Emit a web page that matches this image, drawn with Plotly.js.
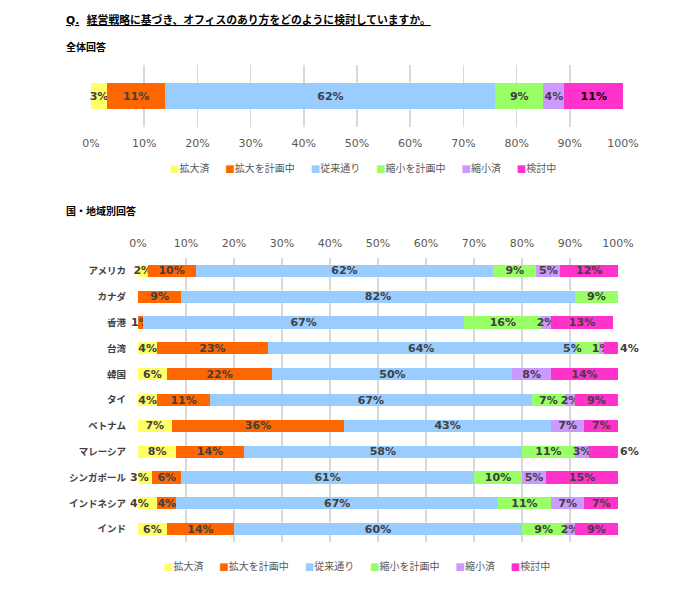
<!DOCTYPE html>
<html><head><meta charset="utf-8">
<script src="https://cdn.plot.ly/plotly-3.0.1.min.js"></script>
<style>html,body{margin:0;padding:0;background:#fff}</style>
</head><body><div id="chart" style="width:700px;height:597px"></div>
<script>
// ---- data ----
const seriesNames = ['拡大済', '拡大を計画中', '従来通り', '縮小を計画中', '縮小済', '検討中'];
const seriesColors = ['#FFFF66', '#FF6600', '#99CCFF', '#99FF66', '#CC99FF', '#FF33CC'];
const overallCategory = ['全体'];
const overallValues = [3, 11, 62, 9, 4, 11];
const countries = ['アメリカ', 'カナダ', '香港', '台湾', '韓国', 'タイ', 'ベトナム', 'マレーシア', 'シンガポール', 'インドネシア', 'インド'];
const expanded   = [2, 0, 0, 4, 6, 4, 7, 8, 3, 4, 6];
const planExpand = [10, 9, 1, 23, 22, 11, 36, 14, 6, 4, 14];
const unchanged  = [62, 82, 67, 64, 50, 67, 43, 58, 61, 67, 60];
const planShrink = [9, 9, 16, 5, 0, 7, 0, 11, 10, 11, 9];
const shrunk     = [5, 0, 2, 1, 8, 2, 7, 3, 5, 7, 2];
const undecided  = [12, 0, 13, 4, 14, 9, 7, 6, 15, 7, 9];
const tickVals = [0, 10, 20, 30, 40, 50, 60, 70, 80, 90, 100];
const tickLabels = ['0%', '10%', '20%', '30%', '40%', '50%', '60%', '70%', '80%', '90%', '100%'];

const countrySeries = [expanded, planExpand, unchanged, planShrink, shrunk, undecided];
const FONT = 'DejaVu Sans, Noto Sans CJK JP, sans-serif';
const NB = '\u00A0';
const lbl = v => v > 0 ? v + '%' : '';
const X_MAX = 100;

// label placement tweaks (styling only), mimicking how the original moved crowded labels
const nudged = [
  { s: 0, row: 'シンガポール', dx: -6 },
  { s: 0, row: 'インドネシア', dx: -8 },
  { s: 3, row: '台湾', dx: -14 }
];
const outsideLabels = [
  { s: 5, row: '台湾' },
  { s: 5, row: 'マレーシア' }
];
const isSpecial = (s, row) =>
  nudged.some(n => n.s === s && n.row === row) || outsideLabels.some(n => n.s === s && n.row === row);

const labelFont = { family: FONT, size: 11, weight: 'bold', color: '#404040' };

const traces = [];
seriesNames.forEach((name, i) => {
  traces.push({
    type: 'bar', orientation: 'h', name: name,
    x: [overallValues[i]], y: overallCategory,
    xaxis: 'x', yaxis: 'y', width: 0.42,
    marker: { color: seriesColors[i], line: { width: 0 } },
    text: [lbl(overallValues[i])], textposition: 'inside', insidetextanchor: 'middle',
    textangle: 0, cliponaxis: false,
    textfont: Object.assign({}, labelFont, { color: i === 5 ? '#000000' : '#404040' }),
    hoverinfo: 'skip', showlegend: false
  });
});
seriesNames.forEach((name, i) => {
  const vals = countrySeries[i];
  traces.push({
    type: 'bar', orientation: 'h', name: name,
    x: vals, y: countries,
    xaxis: 'x2', yaxis: 'y2', width: 0.47,
    marker: { color: seriesColors[i], line: { width: 0 } },
    text: vals.map((v, k) => isSpecial(i, countries[k]) ? '' : lbl(v)),
    textposition: 'inside', insidetextanchor: 'middle',
    textangle: 0, cliponaxis: false,
    textfont: labelFont,
    hoverinfo: 'skip', showlegend: false
  });
});

// annotations for the moved labels, positioned from the data
const labelAnnotations = [];
nudged.forEach(n => {
  const k = countries.indexOf(n.row);
  let start = 0;
  for (let j = 0; j < n.s; j++) start += countrySeries[j][k];
  const v = countrySeries[n.s][k];
  labelAnnotations.push({
    xref: 'x2', yref: 'y2', x: start + v / 2, y: n.row, xshift: n.dx,
    xanchor: 'center', yanchor: 'middle', showarrow: false,
    text: lbl(v), font: labelFont
  });
});
outsideLabels.forEach(n => {
  const k = countries.indexOf(n.row);
  let total = 0;
  for (let j = 0; j <= n.s; j++) total += countrySeries[j][k];
  labelAnnotations.push({
    xref: 'x2', yref: 'y2', x: Math.min(total, X_MAX), y: n.row, xshift: 0,
    xanchor: 'left', yanchor: 'middle', showarrow: false,
    text: lbl(countrySeries[n.s][k]), font: labelFont
  });
});

function legendText() {
  return seriesNames.map((n, i) =>
    '<span style="color:' + seriesColors[i] + ';font-size:10px">■</span>' + n
  ).join(NB + NB + NB + NB + NB);
}

const H = 597, W = 700;
const py = y => 1 - y / H;
const px = x => x / W;

const layout = {
  width: W, height: H,
  margin: { l: 0, r: 0, t: 0, b: 0 },
  paper_bgcolor: '#ffffff', plot_bgcolor: '#ffffff',
  barmode: 'stack',
  showlegend: false,
  uniformtext: { mode: 'show', minsize: 11 },
  font: { family: FONT, color: '#595959' },
  xaxis: {
    domain: [px(91), px(623)], range: [0, X_MAX], anchor: 'y',
    tickvals: tickVals, ticktext: tickLabels,
    showgrid: true, gridcolor: '#D9D9D9', gridwidth: 1.5,
    zeroline: false, showline: false, ticks: '',
    tickfont: { family: FONT, size: 11, color: '#595959' },
    ticklabelstandoff: 8, fixedrange: true
  },
  yaxis: {
    domain: [py(127), py(65)], anchor: 'x',
    showticklabels: false, showgrid: false, zeroline: false, ticks: '',
    fixedrange: true
  },
  xaxis2: {
    domain: [px(138), px(618)], range: [0, X_MAX], anchor: 'y2', side: 'top',
    tickvals: tickVals, ticktext: tickLabels,
    showgrid: true, gridcolor: '#D9D9D9', gridwidth: 1.5,
    zeroline: false, showline: false, ticks: '',
    tickfont: { family: FONT, size: 11, color: '#595959' },
    ticklabelstandoff: 8, fixedrange: true
  },
  yaxis2: {
    domain: [py(542), py(258)], anchor: 'x2', autorange: 'reversed',
    showgrid: false, zeroline: false, ticks: '',
    tickfont: { family: FONT, size: 9.5, weight: 'bold', color: '#404040' },
    ticklabelstandoff: 11, fixedrange: true
  },
  annotations: [
    { xref: 'paper', yref: 'paper', x: px(64), y: py(20), xanchor: 'left', yanchor: 'middle',
      showarrow: false, align: 'left',
      text: '<b><u>Q.</u>' + NB + NB + '<u>経営戦略に基づき、オフィスのあり方をどのように検討していますか。</u></b>',
      font: { family: FONT, size: 10.8, color: '#000000' } },
    { xref: 'paper', yref: 'paper', x: px(64), y: py(47), xanchor: 'left', yanchor: 'middle',
      showarrow: false, text: '<b>全体回答</b>', font: { family: FONT, size: 10, color: '#000000' } },
    { xref: 'paper', yref: 'paper', x: px(64), y: py(211), xanchor: 'left', yanchor: 'middle',
      showarrow: false, text: '<b>国・地域別回答</b>', font: { family: FONT, size: 10, color: '#000000' } },
    { xref: 'paper', yref: 'paper', x: px(363), y: py(168), xanchor: 'center', yanchor: 'middle',
      showarrow: false, text: legendText(), font: { family: FONT, size: 10, color: '#595959' } },
    { xref: 'paper', yref: 'paper', x: px(357), y: py(566), xanchor: 'center', yanchor: 'middle',
      showarrow: false, text: legendText(), font: { family: FONT, size: 10, color: '#595959' } }
  ].concat(labelAnnotations)
};

Plotly.newPlot('chart', traces, layout, { displayModeBar: false, staticPlot: true });
</script>
</body></html>
